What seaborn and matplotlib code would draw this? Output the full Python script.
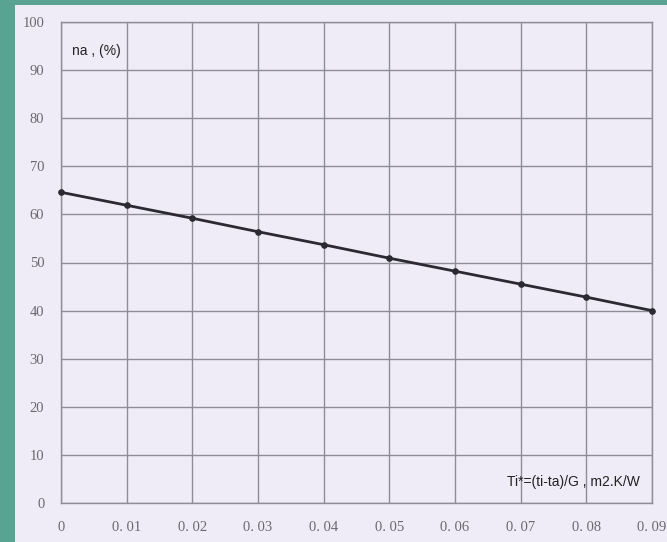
import numpy as np
import pandas as pd
import matplotlib
matplotlib.use("Agg")
import matplotlib.pyplot as plt
import seaborn as sns
from matplotlib.patches import Rectangle

# Data
x_vals = [0.00, 0.01, 0.02, 0.03, 0.04, 0.05, 0.06, 0.07, 0.08, 0.09]
efficiency = [64.6, 61.9, 59.2, 56.4, 53.7, 50.9, 48.2, 45.5, 42.8, 40.0]
x_tick_labels = ["0", "0. 01", "0. 02", "0. 03", "0. 04", "0. 05", "0. 06", "0. 07", "0. 08", "0. 09"]
y_ticks = [0, 10, 20, 30, 40, 50, 60, 70, 80, 90, 100]
y_label_text = "na , (%)"
x_label_text = "Ti*=(ti-ta)/G , m2.K/W"

paper = "#efecf7"
teal = "#58a391"
grid_c = "#8e8c96"

sns.set_theme(style="white")
plt.rcParams['font.family'] = ['Liberation Sans', 'DejaVu Sans']

fig = plt.figure(figsize=(6.67, 5.42), dpi=100, facecolor=paper)
ax = fig.add_axes([61/667, 1 - 503/542, (652-61)/667, (503-22)/542])
ax.set_facecolor(paper)

df = pd.DataFrame({"x": x_vals, "y": efficiency})
sns.lineplot(data=df, x="x", y="y", ax=ax, color="#2b2a33", linewidth=2.0,
             marker="o", markersize=4, markeredgecolor="#2b2a33", zorder=5,
             clip_on=False)

ax.set_xlim(0, 0.09)
ax.set_ylim(0, 100)
ax.set_xticks(x_vals)
ax.set_xticklabels(x_tick_labels)
ax.set_yticks(y_ticks)
ax.set_yticklabels([str(v) for v in y_ticks])
ax.grid(True, color=grid_c, linewidth=1.0)
ax.set_axisbelow(True)
for s in ax.spines.values():
    s.set_color(grid_c)
    s.set_linewidth(1.0)
ax.tick_params(axis="both", length=0, colors="#6a6870", labelsize=10.5)
ax.tick_params(axis="x", pad=13)
ax.tick_params(axis="y", pad=12)
for lab in ax.get_xticklabels() + ax.get_yticklabels():
    lab.set_family(["Liberation Serif", "DejaVu Serif"])
ax.set_xlabel("")
ax.set_ylabel("")

ax.text(0.018, 0.955, y_label_text, transform=ax.transAxes, fontsize=10,
        color="#222222", ha="left", va="top")
ax.text(0.98, 0.03, x_label_text, transform=ax.transAxes, fontsize=10,
        color="#222222", ha="right", va="bottom")

# teal frame (left and top strips)
fig.patches.append(Rectangle((0, 0), 15/667, 1, transform=fig.transFigure,
                             facecolor=teal, edgecolor="none", zorder=-1))
fig.patches.append(Rectangle((0, 1 - 5/542), 1, 5/542, transform=fig.transFigure,
                             facecolor=teal, edgecolor="none", zorder=-1))

fig.savefig("out.png", dpi=100, facecolor=paper)
